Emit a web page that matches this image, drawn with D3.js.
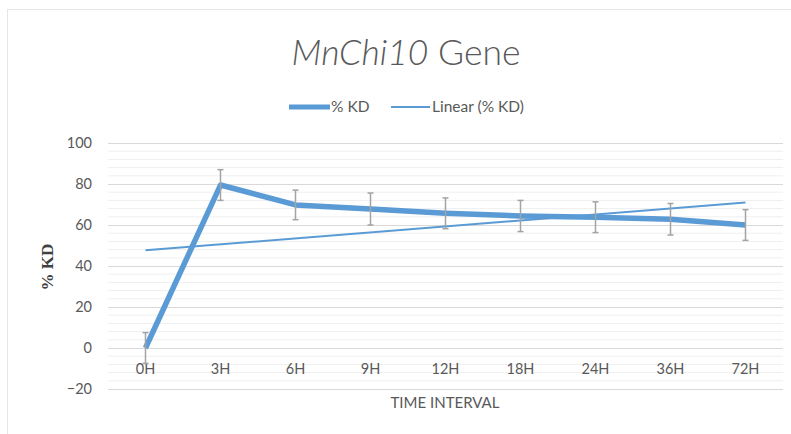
<!DOCTYPE html>
<html><head><meta charset="utf-8">
<script src="https://cdn.jsdelivr.net/npm/d3@7"></script>
<style>body{margin:0;background:#fff}svg{display:block}</style>
</head><body>
<svg id="c" width="791" height="434"></svg>
<script>
const categories = ["0H","3H","6H","9H","12H","18H","24H","36H","72H"];
const kdValues = [0, 79.5, 69.8, 67.8, 65.7, 64.4, 63.8, 62.8, 60.0];
const kdErrors = [7.5, 7.5, 7.2, 7.8, 7.5, 7.6, 7.5, 7.7, 7.5];
const yTicks = [-20, 0, 20, 40, 60, 80, 100];
const minorStep = 4;

const svg = d3.select("#c");
const font = "Lato, 'Open Sans', sans-serif";
const grey = "#595959";
const blue = "#5b9bd5";

// chart frame
svg.append("rect").attr("x",7.5).attr("y",9.5).attr("width",800).attr("height",440)
  .attr("fill","#fff").attr("stroke","#e6e6e6");

const L = 108, R = 783, T = 143, B = 389;
const x = d3.scaleBand().domain(categories).range([L, R]);
const y = d3.scaleLinear().domain([-20, 100]).range([B, T]);
const cx = c => x(c) + x.bandwidth()/2;

// minor gridlines
const minor = d3.range(-20, 100.001, minorStep).filter(v => !yTicks.includes(v));
svg.append("g").selectAll("line").data(minor).join("line")
  .attr("x1", L).attr("x2", R).attr("y1", d => y(d)).attr("y2", d => y(d))
  .attr("stroke", "#efefef").attr("stroke-width", 1);

// y axis with major gridlines
const yAxis = d3.axisLeft(y).tickValues(yTicks).tickSize(-(R - L)).tickPadding(16);
const gy = svg.append("g").attr("transform", `translate(${L},0)`).call(yAxis);
gy.select(".domain").remove();
gy.selectAll(".tick line").attr("stroke", "#d9d9d9");
gy.selectAll(".tick text").attr("fill", grey).attr("font-family", font).attr("font-size", 14.5);

// x axis labels
const xAxis = d3.axisBottom(x).tickSize(0).tickPadding(0);
const gx = svg.append("g").attr("transform", `translate(0,${y(0) + 16})`).call(xAxis);
gx.select(".domain").remove();
gx.selectAll(".tick text").attr("fill", grey).attr("font-family", font).attr("font-size", 14.5);

// linear trendline (least squares over category index)
const n = kdValues.length;
const xs = d3.range(1, n + 1);
const mx = d3.mean(xs), my = d3.mean(kdValues);
const slope = d3.sum(xs, (xi, i) => (xi - mx) * (kdValues[i] - my)) / d3.sum(xs, xi => (xi - mx) ** 2);
const icpt = my - slope * mx;
const trend = [0, n - 1].map(i => [cx(categories[i]), y(icpt + slope * (i + 1))]);
svg.append("path").attr("d", d3.line()(trend)).attr("stroke", blue).attr("stroke-width", 2).attr("fill", "none");

// main series
const line = d3.line().x((d, i) => cx(categories[i])).y(d => y(d));
svg.append("path").datum(kdValues).attr("d", line).attr("stroke", blue)
  .attr("stroke-width", 5.5).attr("fill", "none").attr("stroke-linejoin", "round");

// error bars
const eb = svg.append("g").attr("stroke", "#a3a3a3").attr("stroke-width", 1.5);
kdValues.forEach((v, i) => {
  const xc = cx(categories[i]);
  const e = kdErrors[i];
  eb.append("line").attr("x1", xc).attr("x2", xc).attr("y1", y(v + e)).attr("y2", y(v - e));
  eb.append("line").attr("x1", xc - 3).attr("x2", xc + 3).attr("y1", y(v + e)).attr("y2", y(v + e));
  eb.append("line").attr("x1", xc - 3).attr("x2", xc + 3).attr("y1", y(v - e)).attr("y2", y(v - e));
});

// title
const title = svg.append("text").attr("x", 406).attr("y", 65).attr("text-anchor", "middle")
  .attr("font-family", font).attr("font-weight", 300).attr("font-size", 35.5).attr("fill", grey);
title.append("tspan").attr("font-style", "italic").text("MnChi10");
title.append("tspan").text(" Gene");

// legend
const lg = svg.append("g").attr("font-family", font).attr("font-size", 15.5).attr("fill", grey);
lg.append("line").attr("x1", 289).attr("x2", 330).attr("y1", 107).attr("y2", 107).attr("stroke", blue).attr("stroke-width", 5);
lg.append("text").attr("x", 331).attr("y", 112).text("% KD");
lg.append("line").attr("x1", 391).attr("x2", 430).attr("y1", 107).attr("y2", 107).attr("stroke", blue).attr("stroke-width", 2);
lg.append("text").attr("x", 432).attr("y", 112).text("Linear (% KD)");

// axis titles
svg.append("text").attr("transform", "translate(53,267) rotate(-90)").attr("text-anchor", "middle")
  .attr("font-family", "'Liberation Serif', 'Times New Roman', serif").attr("font-weight", "bold")
  .attr("font-size", 17).attr("fill", "#404040").text("% KD");
svg.append("text").attr("x", 445).attr("y", 408).attr("text-anchor", "middle")
  .attr("font-family", font).attr("font-size", 15).attr("fill", grey).text("TIME INTERVAL");
</script>
</body></html>
